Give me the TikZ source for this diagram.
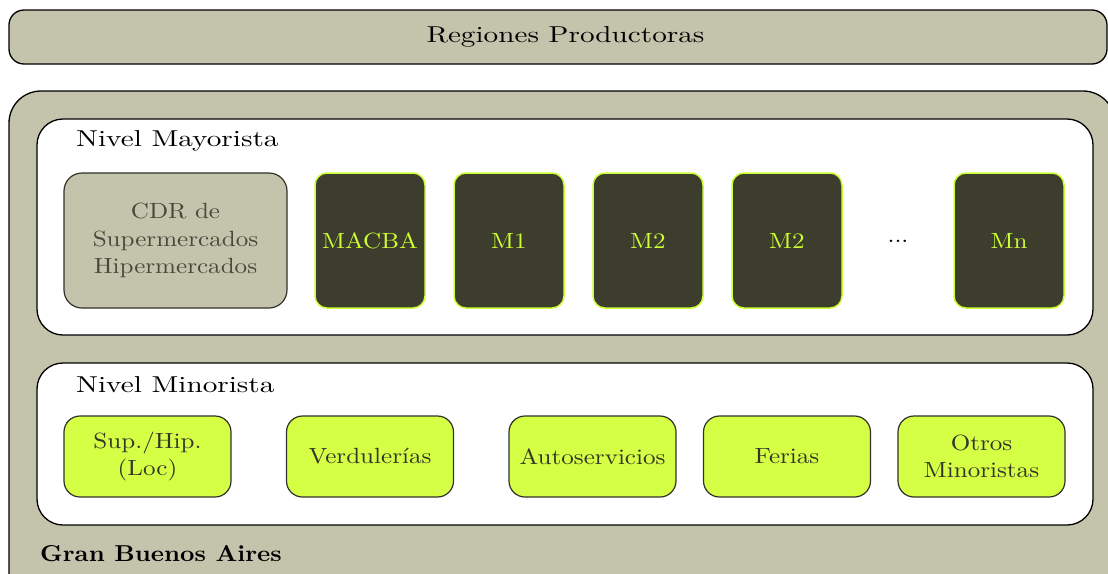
\documentclass[tikz,border=0pt]{standalone}
\usepackage{fontspec}
\newfontfamily\boxfam{lmroman10-regular.otf}[FakeStretch=1.14]
\newfontfamily\headfam{lmroman10-regular.otf}[FakeStretch=1.27]
\newfontfamily\gbafam{lmroman10-bold.otf}[FakeStretch=1.09]
\definecolor{khaki}{RGB}{196,196,172}
\definecolor{darkbox}{RGB}{61,61,45}
\definecolor{lime}{RGB}{212,255,68}
\definecolor{limeline}{RGB}{204,255,51}
\definecolor{txtgray}{RGB}{52,52,42}
\definecolor{cdrtxt}{RGB}{72,72,60}
\definecolor{edgegray}{RGB}{50,50,42}
\newcommand{\boxfont}{\boxfam\fontsize{22}{27.5}\selectfont}
\newcommand{\headfont}{\headfam\fontsize{23}{28}\selectfont}
\tikzset{
  panel/.style={draw=black, line width=1.3pt, rounded corners=#1, inner sep=0pt},
  cdrbox/.style={draw=edgegray, line width=1.2pt, fill=khaki, rounded corners=18pt,
    minimum width=223pt, minimum height=135pt, inner sep=0pt, text=cdrtxt,
    align=center, font=\boxfont},
  mbox/.style={draw=limeline, line width=1.5pt, fill=darkbox, rounded corners=12pt,
    minimum width=110pt, minimum height=135pt, inner sep=0pt, text=limeline,
    font=\boxfont},
  retbox/.style={draw=edgegray, line width=1.2pt, fill=lime, rounded corners=16pt,
    minimum width=167pt, minimum height=81pt, inner sep=0pt, text=txtgray,
    align=center, font=\boxfont},
  heading/.style={anchor=west, inner sep=0pt, font=\headfont},
}
\begin{document}
\begin{tikzpicture}[x=1pt,y=-1pt]
\useasboundingbox (0,0) rectangle (1108,573);
% top bar
\node[panel=15pt, fill=khaki, minimum width=1098pt, minimum height=54pt] (reg) at (558,37) {};
\node[inner sep=0pt, font=\headfont] (regt) at (565.5,37) {Regiones Productoras};
% outer region
\node[panel=32pt, fill=khaki, minimum width=1106pt, minimum height=530pt] (gba) at (562,356) {};
% white panels
\node[panel=26pt, fill=white, minimum width=1056pt, minimum height=216pt] (may) at (565,227) {};
\node[panel=26pt, fill=white, minimum width=1056pt, minimum height=162pt] (min) at (565,444) {};
% labels
\node[heading] (lmay) at (76,141) {Nivel Mayorista};
\node[heading] (lmin) at (76,385) {Nivel Minorista};
\node[anchor=west, inner sep=0pt, font=\gbafam\fontsize{23}{28}\selectfont] (lgba) at (40,554) {Gran Buenos Aires};
% wholesale
\node[cdrbox] (cdr) at (175.5,240.5) {CDR de\\Supermercados\\Hipermercados};
\node[mbox] (macba) at (370,240.5) {MACBA};
\node[mbox] (m1) at (509,240.5) {M1};
\node[mbox] (m2a) at (648,240.5) {M2};
\node[mbox] (m2b) at (787,240.5) {M2};
\node[inner sep=0pt, font=\boxfont] (dots) at (898,241) {...};
\node[mbox] (mn) at (1009,240.5) {Mn};
% retail
\node[retbox] (sup) at (147.5,456.5) {Sup./Hip.\\(Loc)};
\node[retbox] (ver) at (370,456.5) {Verdulerías};
\node[retbox] (aut) at (592.5,456.5) {Autoservicios};
\node[retbox] (fer) at (787,456.5) {Ferias};
\node[retbox] (otr) at (981.5,456.5) {Otros\\Minoristas};
\end{tikzpicture}
\end{document}
